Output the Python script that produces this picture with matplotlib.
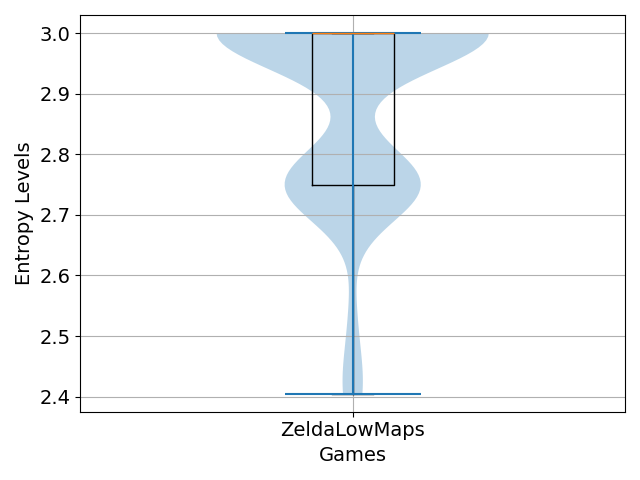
import numpy as np
import matplotlib
matplotlib.use("Agg")
import matplotlib.pyplot as plt

# Data (entropy values and how many maps have each value)
game_names = ["ZeldaLowMaps"]
entropy_values = [3.0, 2.75, 2.53, 2.43, 2.405]
entropy_counts = [84, 42, 2, 3, 3]

data = np.repeat(entropy_values, entropy_counts)

fig, ax = plt.subplots(figsize=(6.4, 4.8), dpi=100)
ax.boxplot([data], positions=[1], widths=0.15, showfliers=False)
ax.violinplot([data], positions=[1])
ax.set_xlim(0.5, 1.5)
ax.set_xticks([1], game_names)
ax.tick_params(axis="both", labelsize=14)
ax.set_xlabel("Games", fontsize=14)
ax.set_ylabel("Entropy Levels", fontsize=14)
ax.grid(True)
fig.tight_layout()
fig.savefig("out.png")
